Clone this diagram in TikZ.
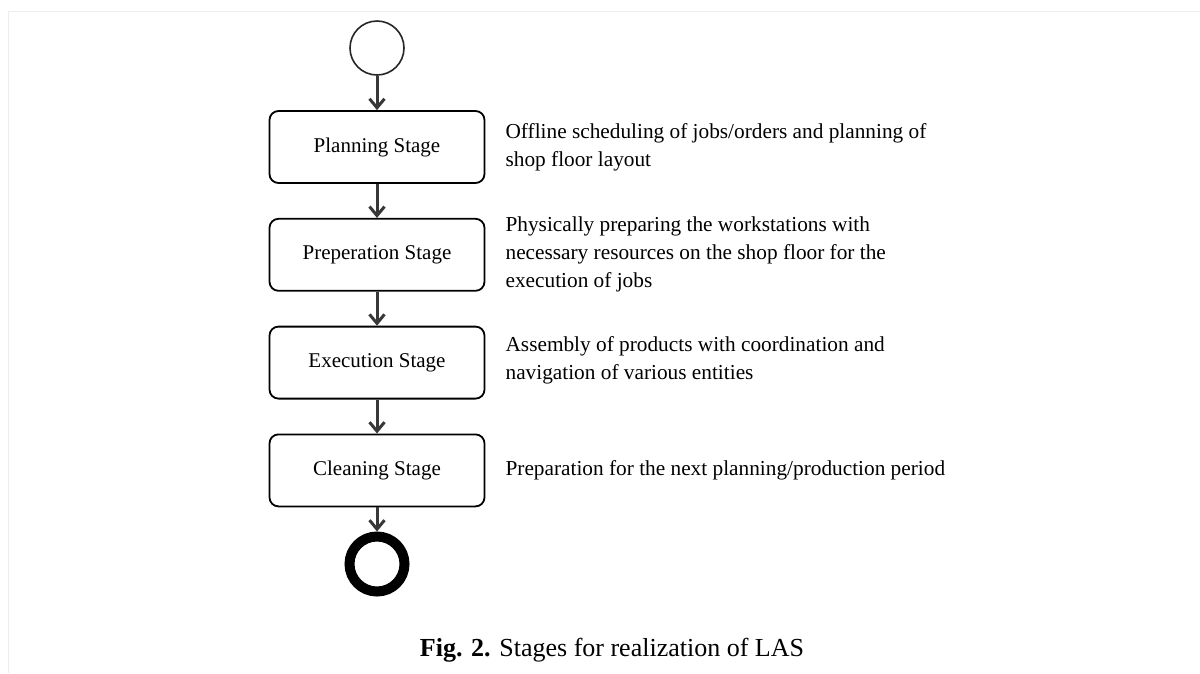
\documentclass[tikz,border=0pt]{standalone}
\usepackage{fontspec}
\setmainfont{Liberation Serif}
\usepackage{tikz}
\usetikzlibrary{arrows.meta,positioning}
\tikzset{
  stagebox/.style={draw=black,line width=1.8pt,rounded corners=9pt,align=center,
    minimum width=215pt,minimum height=72pt,font=\fontsize{21}{26}\selectfont},
  notetext/.style={align=left,inner sep=0pt,anchor=west,
    font=\fontsize{21.3}{28}\selectfont},
  startnode/.style={circle,draw=black!85,line width=1.6pt,minimum size=54pt,inner sep=0pt},
  endnode/.style={circle,draw=black,line width=10pt,minimum size=55pt,inner sep=0pt},
  flowarrow/.style={-{Straight Barb[length=9pt,width=15pt]},line width=3pt,draw=black!78}
}
\begin{document}
\begin{tikzpicture}[x=1pt,y=-1pt,node distance=34pt]
  \useasboundingbox (0,0) rectangle (1200,673);
  \draw[black!7,line width=1pt] (8,673) -- (8,11) -- (1200,11);
  % activity flow
  \node[startnode] (start) at (377,48) {};
  \node[stagebox] (plan) at (377,147) {Planning Stage};
  \node[stagebox,below=of plan] (prep) {Preperation Stage};
  \node[stagebox,below=of prep] (exec) {Execution Stage};
  \node[stagebox,below=of exec] (clean) {Cleaning Stage};
  \node[endnode] (stop) at (377,564) {};
  \draw[flowarrow] (start) -- (plan);
  \draw[flowarrow] (plan) -- (prep);
  \draw[flowarrow] (prep) -- (exec);
  \draw[flowarrow] (exec) -- (clean);
  \draw[flowarrow] (clean) -- (stop);
  % descriptions
  \node[notetext] (plannote) at ([xshift=20pt]plan.east)
    {Offline scheduling of jobs/orders and planning of\\shop floor layout};
  \node[notetext] (prepnote) at ([xshift=20pt]prep.east)
    {Physically preparing the workstations with\\necessary resources on the shop floor for the\\execution of jobs};
  \node[notetext] (execnote) at ([xshift=20pt,yshift=2pt]exec.east)
    {Assembly of products with coordination and\\navigation of various entities};
  \node[notetext] (cleannote) at ([xshift=20pt]clean.east)
    {Preparation for the next planning/production period};
  \node[font=\fontsize{26}{30}\selectfont] (caption) at (612,650)
    {\textbf{Fig. 2.} Stages for realization of LAS};
\end{tikzpicture}
\end{document}
